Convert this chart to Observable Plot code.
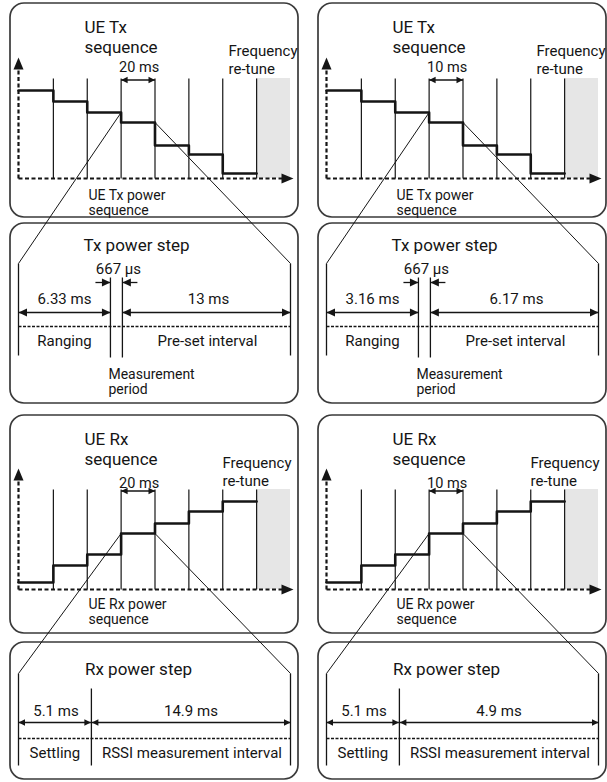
<!DOCTYPE html>
<html><head><meta charset="utf-8">
<script src="https://cdn.jsdelivr.net/npm/d3@7"></script>
<script src="https://cdn.jsdelivr.net/npm/@observablehq/plot@0.6"></script>
<style>
html,body{margin:0;padding:0;background:#fff;}
#chart svg{display:block;}
</style></head><body><div id="chart"></div>
<script>
// ---------------- data ----------------
const slotMs = [20, 10];                 // slot duration per column (ms)
const slotCount = 7;                     // power steps per sequence
const txPowerLevels = [88, 77, 66, 56, 33, 24, 5];   // relative Tx power per step
const rxPowerLevels = [7, 24, 35, 56, 66, 78, 88];   // relative Rx power per step
const txRangingMs = [6.33, 3.16];
const txMeasurementUs = [667, 667];
const txPresetMs = [13, 6.17];
const rxSettlingMs = [5.1, 5.1];
const rxRssiMs = [14.9, 4.9];
const seqTitles = ["UE Tx\nsequence", "UE Rx\nsequence"];
const seqAxisLabels = ["UE Tx power\nsequence", "UE Rx power\nsequence"];
const retuneLabel = "Frequency\nre-tune";
const stepTitles = ["Tx power step", "Rx power step"];
const txSegmentLabels = ["Ranging", "Pre-set interval"];
const measurementLabel = "Measurement\nperiod";
const rxSegmentLabels = ["Settling", "RSSI measurement interval"];

// ---------------- layout ----------------
const colOff = [0, 308];
const X0 = 18, X1 = 290;
const seqRows = [
  {levels: txPowerLevels, box: [3, 217], axisY: 178, titleY: 18, spanY: 61, retuneX: 228, retuneY: 43, axisLabelY: 188, stepTop: 263},
  {levels: rxPowerLevels, box: [415, 633], axisY: 589, titleY: 430, spanY: 477, retuneX: 222, retuneY: 455, axisLabelY: 597, stepTop: 673}
];

const panels = [], gray = [], slotLines = [], stepPts = [], axes = [], connectors = [];
const thinLines = [], dashed = [], shafts = [];
const headsBig = [], headsSmall = [], headsMid = [];
const seqTitleTexts = [], stepTitleTexts = [], labels = [], retuneTexts = [], tightLabels = [];

function head(arr, x, y, dir) { arr.push({x, y, r: {up: 0, right: 90, down: 180, left: -90}[dir]}); }

for (let c = 0; c < 2; c++) {
  const o = colOff[c], ms = slotMs[c];
  seqRows.forEach((row, ri) => {
    const xs = d3.scaleLinear().domain([0, (slotCount + 1) * ms]).range([19 + o, X1 + o]);
    const ys = d3.scaleLinear().domain([0, 100]).range([row.axisY, row.axisY - 100]);
    const L = row.levels;
    panels.push({x1: 10 + o, x2: 298 + o, y1: row.box[0], y2: row.box[1]});
    gray.push({x1: xs(slotCount * ms), x2: xs((slotCount + 1) * ms), y1: ys(100), y2: ys(0)});
    for (let i = 1; i <= slotCount; i++) slotLines.push({x1: xs(i * ms), x2: xs(i * ms), y1: ys(100), y2: ys(0)});
    const id = c + "-" + ri;
    L.forEach((v, i) => stepPts.push({id, x: i === 0 ? X0 + o : xs(i * ms), y: ys(v)}));
    stepPts.push({id, x: xs(slotCount * ms), y: ys(L[slotCount - 1])});
    // axes
    axes.push({x1: X0 + o, y1: ys(0), x2: X0 + o, y2: ys(121) + 12});
    head(headsBig, X0 + o, ys(121), "up");
    axes.push({x1: X0 + o, y1: ys(0), x2: X1 + o - 8, y2: ys(0)});
    head(headsBig, X1 + o + 3, ys(0), "right");
    // slot span arrow
    const sa = xs(3 * ms), sb = xs(4 * ms), sy = ys(100) + 1.5;
    shafts.push({x1: sa, x2: sb, y1: sy, y2: sy});
    head(headsSmall, sa, sy, "left");
    head(headsSmall, sb, sy, "right");
    labels.push({x: (sa + sb) / 2 + 1, y: row.spanY, text: `${ms} ms`, fs: 14.5});
    // connectors
    connectors.push({x1: sa, y1: ys(Math.max(L[2], L[3])), x2: X0 + o, y2: row.stepTop});
    connectors.push({x1: sb, y1: ys(L[3]), x2: X1 + o, y2: row.stepTop});
    // texts
    seqTitleTexts.push({x: 84 + o, y: row.titleY, text: seqTitles[ri]});
    retuneTexts.push({x: row.retuneX + o, y: row.retuneY, text: retuneLabel});
    tightLabels.push({x: 88 + o, y: row.axisLabelY, text: seqAxisLabels[ri]});
  });

  // ---- Tx power step panel ----
  {
    const top = 263, bot = 355;
    const xsS = d3.scaleLinear().domain([0, 1]).range([X0 + o, X1 + o]);
    const m1 = xsS(0.338), m2 = xsS(0.382);
    panels.push({x1: 10 + o, x2: 298 + o, y1: 223, y2: 403});
    stepTitleTexts.push({x: 136 + o, y: 238, text: stepTitles[0]});
    thinLines.push({x1: X0 + o, x2: X0 + o, y1: top, y2: bot});
    thinLines.push({x1: X1 + o, x2: X1 + o, y1: top, y2: bot});
    thinLines.push({x1: m1, x2: m1, y1: 277, y2: 357});
    thinLines.push({x1: m2, x2: m2, y1: 277, y2: 357});
    labels.push({x: (m1 + m2) / 2 + 2, y: 263, text: `${txMeasurementUs[c]} µs`, fs: 15});
    shafts.push({x1: m1 - 15, x2: m1, y1: 282, y2: 282});
    head(headsMid, m1, 282, "right");
    shafts.push({x1: m2 + 15, x2: m2, y1: 282, y2: 282});
    head(headsMid, m2, 282, "left");
    const ay = 312;
    shafts.push({x1: X0 + o, x2: m1, y1: ay, y2: ay});
    head(headsMid, X0 + o, ay, "left"); head(headsMid, m1, ay, "right");
    shafts.push({x1: m2, x2: X1 + o, y1: ay, y2: ay});
    head(headsMid, m2, ay, "left"); head(headsMid, X1 + o, ay, "right");
    labels.push({x: (X0 + o + m1) / 2, y: 293, text: `${txRangingMs[c]} ms`, fs: 15});
    labels.push({x: (m2 + X1 + o) / 2 + 2, y: 293, text: `${txPresetMs[c]} ms`, fs: 15});
    dashed.push({x1: X0 + o, x2: X1 + o, y1: 326, y2: 326});
    labels.push({x: (X0 + o + m1) / 2, y: 335, text: txSegmentLabels[0], fs: 15});
    labels.push({x: (m2 + X1 + o) / 2 + 1, y: 335, text: txSegmentLabels[1], fs: 15});
    tightLabels.push({x: m1 - 2, y: 367, text: measurementLabel});
  }
  // ---- Rx power step panel ----
  {
    const top = 673, bot = 765;
    const xsS = d3.scaleLinear().domain([0, 1]).range([X0 + o, X1 + o]);
    const m = xsS(0.268);
    panels.push({x1: 10 + o, x2: 298 + o, y1: 642, y2: 779});
    stepTitleTexts.push({x: 138 + o, y: 662, text: stepTitles[1]});
    thinLines.push({x1: X0 + o, x2: X0 + o, y1: top, y2: bot});
    thinLines.push({x1: X1 + o, x2: X1 + o, y1: top, y2: bot});
    thinLines.push({x1: m, x2: m, y1: 688, y2: bot});
    const ay = 722;
    shafts.push({x1: X0 + o, x2: m - 0.5, y1: ay, y2: ay});
    head(headsSmall, X0 + o, ay, "left"); head(headsSmall, m - 0.5, ay, "right");
    shafts.push({x1: m + 0.5, x2: X1 + o, y1: ay, y2: ay});
    head(headsSmall, m + 0.5, ay, "left"); head(headsSmall, X1 + o, ay, "right");
    labels.push({x: (X0 + o + m) / 2 + 1, y: 705, text: `${rxSettlingMs[c]} ms`, fs: 15});
    labels.push({x: (m + X1 + o) / 2, y: 705, text: `${rxRssiMs[c]} ms`, fs: 15});
    dashed.push({x1: X0 + o, x2: X1 + o, y1: 738, y2: 738});
    labels.push({x: (X0 + o + m) / 2, y: 747, text: rxSegmentLabels[0], fs: 15});
    labels.push({x: (m + X1 + o) / 2 + 1, y: 747, text: rxSegmentLabels[1], fs: 15});
  }
}

// arrowhead symbols: tip at origin, pointing up
const mkHead = (len, hw) => ({draw(ctx) { ctx.moveTo(0, 0); ctx.lineTo(-hw, len); ctx.lineTo(hw, len); ctx.closePath(); }});
const INK = "#151515";

const chart = Plot.plot({
  width: 607, height: 782, margin: 0,
  x: {domain: [0, 607], range: [0, 607], axis: null},
  y: {domain: [0, 782], range: [0, 782], axis: null},
  style: {fontFamily: "Roboto, 'Liberation Sans', sans-serif", background: "white", color: INK},
  marks: [
    Plot.rect(panels, {x1: "x1", x2: "x2", y1: "y1", y2: "y2", rx: 14, fill: "white", stroke: "#3a3a3a", strokeWidth: 1.7}),
    Plot.rect(gray, {x1: "x1", x2: "x2", y1: "y1", y2: "y2", fill: "#e6e6e6"}),
    Plot.link(slotLines, {x1: "x1", y1: "y1", x2: "x2", y2: "y2", stroke: INK, strokeWidth: 1.2}),
    Plot.link(axes, {x1: "x1", y1: "y1", x2: "x2", y2: "y2", stroke: INK, strokeWidth: 2.2, strokeDasharray: "4,2.5"}),
    Plot.line(stepPts, {x: "x", y: "y", z: "id", curve: "step-after", stroke: INK, strokeWidth: 2.6}),
    Plot.link(connectors, {x1: "x1", y1: "y1", x2: "x2", y2: "y2", stroke: INK, strokeWidth: 1}),
    Plot.link(thinLines, {x1: "x1", y1: "y1", x2: "x2", y2: "y2", stroke: INK, strokeWidth: 1.3}),
    Plot.link(dashed, {x1: "x1", y1: "y1", x2: "x2", y2: "y2", stroke: INK, strokeWidth: 1.6, strokeDasharray: "3,1.5"}),
    Plot.link(shafts, {x1: "x1", y1: "y1", x2: "x2", y2: "y2", stroke: INK, strokeWidth: 1.3}),
    Plot.dot(headsBig, {x: "x", y: "y", rotate: "r", symbol: mkHead(12, 5), fill: INK, stroke: "none"}),
    Plot.dot(headsMid, {x: "x", y: "y", rotate: "r", symbol: mkHead(8.5, 4), fill: INK, stroke: "none"}),
    Plot.dot(headsSmall, {x: "x", y: "y", rotate: "r", symbol: mkHead(6.5, 3.2), fill: INK, stroke: "none"}),
    Plot.text(seqTitleTexts, {x: "x", y: "y", text: "text", textAnchor: "start", lineAnchor: "top", fontSize: 17, lineHeight: 1.18, fill: INK}),
    Plot.text(stepTitleTexts, {x: "x", y: "y", text: "text", textAnchor: "middle", lineAnchor: "top", fontSize: 17, fill: INK}),
    Plot.text(retuneTexts, {x: "x", y: "y", text: "text", textAnchor: "start", lineAnchor: "top", fontSize: 15, lineHeight: 1.2, fill: INK}),
    Plot.text(tightLabels, {x: "x", y: "y", text: "text", textAnchor: "start", lineAnchor: "top", fontSize: 14, lineHeight: 1.12, fill: INK}),
    Plot.text(labels, {x: "x", y: "y", text: "text", textAnchor: "middle", lineAnchor: "top", fontSize: "fs", fill: INK})
  ]
});
document.getElementById("chart").appendChild(chart);
</script>
</body></html>
